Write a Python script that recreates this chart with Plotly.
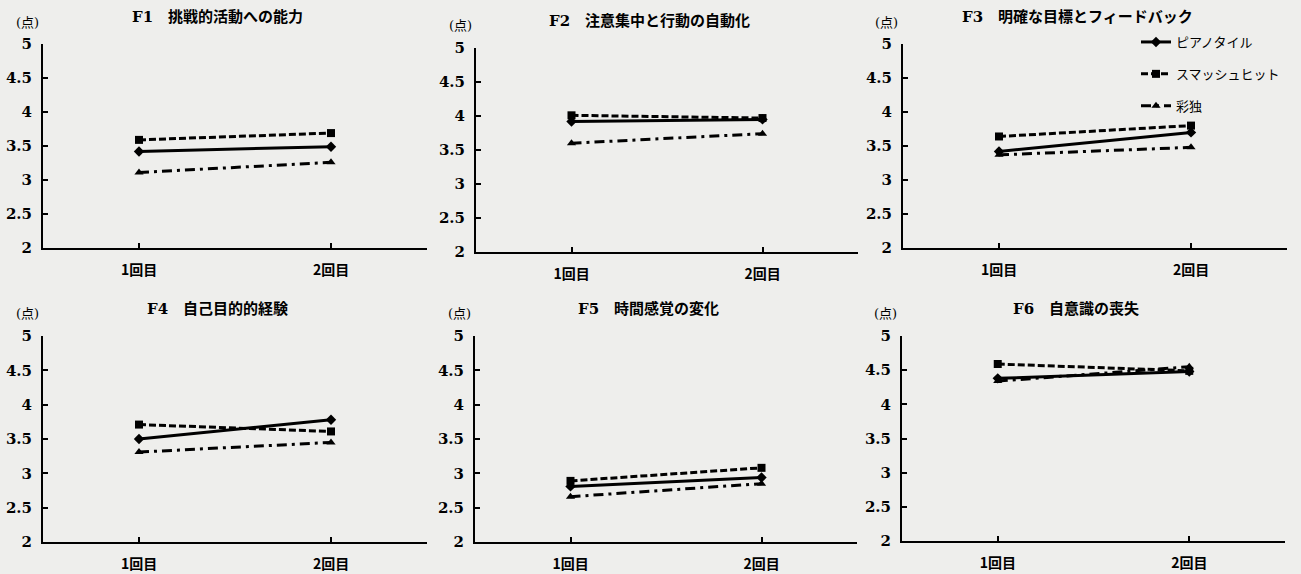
import plotly.graph_objects as go

categories = ["1回目", "2回目"]
x_pos = [1, 2]
titles = ["F1　挑戦的活動への能力", "F2　注意集中と行動の自動化", "F3　明確な目標とフィードバック",
          "F4　自己目的的経験", "F5　時間感覚の変化", "F6　自意識の喪失"]
series_names = ["ピアノタイル", "スマッシュヒット", "彩独"]
piano = [[3.42, 3.49], [3.92, 3.95], [3.42, 3.70], [3.50, 3.78], [2.81, 2.94], [4.38, 4.48]]
smash = [[3.59, 3.69], [4.01, 3.97], [3.64, 3.80], [3.71, 3.61], [2.89, 3.08], [4.59, 4.49]]
saido = [[3.11, 3.26], [3.60, 3.74], [3.37, 3.48], [3.31, 3.45], [2.66, 2.85], [4.34, 4.55]]
y_ticks = [2, 2.5, 3, 3.5, 4, 4.5, 5]
y_ticktext = ["2", "2.5", "3", "3.5", "4", "4.5", "5"]

W, H = 1301, 574
# pixel boxes per panel: (left, right, top, bottom)
boxes = [(43, 427, 44, 248), (476, 858, 48, 252), (903, 1287, 44, 248),
         (43, 427, 336, 542), (475, 857, 336, 542), (902, 1285, 336, 541)]

BG = "#eeeeec"
SERIF = "DejaVu Serif, Noto Sans CJK JP, serif"
CJK = "Noto Sans CJK JP, sans-serif"

styles = [
    dict(dash="solid", symbol="diamond", size=8),
    dict(dash="7px,3px", symbol="square", size=8),
    dict(dash="10px,5px,3px,5px", symbol="triangle-up", size=8),
]
all_series = [piano, smash, saido]

fig = go.Figure()
layout = {}
for i in range(6):
    n = "" if i == 0 else str(i + 1)
    l, r, t, b = boxes[i]
    for s in range(3):
        st = styles[s]
        fig.add_trace(go.Scatter(
            x=x_pos, y=all_series[s][i], mode="lines+markers",
            name=series_names[s], legendgroup=series_names[s],
            showlegend=(i == 0),
            line=dict(color="black", width=3, dash=st["dash"]),
            marker=dict(symbol=st["symbol"], size=st["size"], color="black"),
            xaxis="x" + n, yaxis="y" + n,
        ))
    layout["xaxis" + n] = dict(
        domain=[l / W, r / W], anchor="y" + n, range=[0.5, 2.5],
        tickvals=x_pos + [2.5], ticktext=categories + [""],
        ticks="inside", ticklen=5, tickwidth=1.5, tickcolor="black",
        showline=True, linecolor="black", linewidth=2, showgrid=False, zeroline=False,
        tickfont=dict(family=CJK, size=14, color="black", weight="bold"),
        ticklabelstandoff=8, fixedrange=True, automargin=False,
    )
    layout["yaxis" + n] = dict(
        domain=[1 - b / H, 1 - t / H], anchor="x" + n, range=[2, 5],
        tickvals=y_ticks, ticktext=y_ticktext,
        ticks="inside", ticklen=5, tickwidth=1.5, tickcolor="black",
        showline=True, linecolor="black", linewidth=2, showgrid=False, zeroline=False,
        tickfont=dict(family=SERIF, size=15, color="black", weight="bold"),
        ticklabelstandoff=6, fixedrange=True, automargin=False,
    )

annotations = []
for i in range(6):
    l, r, t, b = boxes[i]
    annotations.append(dict(
        text="<b>" + titles[i] + "</b>", xref="paper", yref="paper",
        x=((l + r) / 2 - 18) / W, y=1 - (t - 27) / H, xanchor="center", yanchor="middle",
        showarrow=False, font=dict(family=SERIF, size=15, color="black"),
    ))
    annotations.append(dict(
        text="(点)", xref="paper", yref="paper",
        x=(l - 16) / W, y=1 - (t - 22) / H, xanchor="center", yanchor="middle",
        showarrow=False, font=dict(family=SERIF, size=13, color="black"),
    ))

fig.update_layout(
    template="none",
    width=W, height=H, margin=dict(l=0, r=0, t=0, b=0, autoexpand=False),
    paper_bgcolor=BG, plot_bgcolor=BG,
    annotations=annotations,
    legend=dict(x=1136 / W, y=1 - 27 / H, xanchor="left", yanchor="top",
                bgcolor="rgba(0,0,0,0)", font=dict(family=CJK, size=13, color="black"),
                tracegroupgap=12, itemwidth=30),
    **layout,
)

fig.write_html("out.html", config={"displayModeBar": False},
               post_script="document.body.style.margin='0';document.body.style.padding='0';document.body.style.overflow='hidden';")
